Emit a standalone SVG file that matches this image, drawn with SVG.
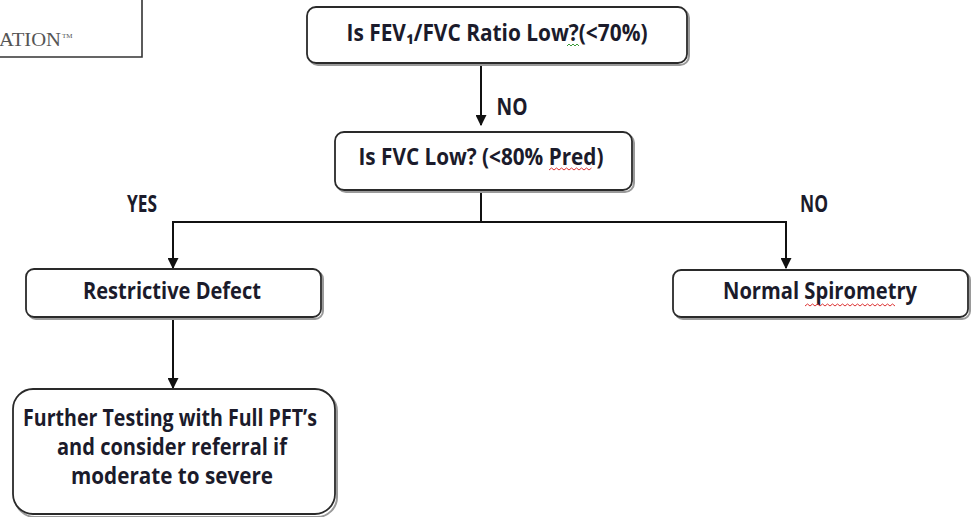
<svg xmlns="http://www.w3.org/2000/svg" width="977" height="517" viewBox="0 0 977 517">
<defs>
<style>
.box{fill:#fff;stroke:#2a2a2a;stroke-width:1.8}
.shadow{fill:none;stroke:#9a9a9a;stroke-width:2}
.t{font-family:"Open Sans","Liberation Sans","DejaVu Sans",sans-serif;font-weight:bold;font-size:23px;fill:#1b1b2b;text-anchor:middle}
.c{fill:none;stroke:#111;stroke-width:2}
.sq{fill:none;stroke-width:1}
</style>
<marker id="ah" viewBox="0 0 10 10" refX="9" refY="5" markerWidth="5.5" markerHeight="5.5" orient="auto">
<path d="M0,0 L10,5 L0,10 z" fill="#111"/>
</marker>
</defs>
<rect width="977" height="517" fill="#fff"/>

<g id="logo">
<path d="M142,0 V57 H0" fill="none" stroke="#333" stroke-width="1.6"/>
<text x="61" y="46" text-anchor="end" font-family="Liberation Serif,serif" font-size="19" fill="#555" textLength="62" lengthAdjust="spacingAndGlyphs">ATION</text>
<text x="62" y="38" font-family="Liberation Serif,serif" font-size="7" fill="#555">TM</text>
</g>

<g id="connectors">
<line class="c" x1="481" y1="64" x2="481" y2="125" marker-end="url(#ah)"/>
<line class="c" x1="481" y1="191" x2="481" y2="222"/>
<path class="c" d="M173,222 H786"/>
<line class="c" x1="173" y1="221" x2="173" y2="268" marker-end="url(#ah)"/>
<line class="c" x1="786" y1="221" x2="786" y2="268" marker-end="url(#ah)"/>
<line class="c" x1="173" y1="318" x2="173" y2="388" marker-end="url(#ah)"/>
<text class="t" x="512" y="115" font-size="18" textLength="31" lengthAdjust="spacingAndGlyphs">NO</text>
<text class="t" x="142" y="212" font-size="17" textLength="30" lengthAdjust="spacingAndGlyphs">YES</text>
<text class="t" x="814" y="212" font-size="17" textLength="28" lengthAdjust="spacingAndGlyphs">NO</text>
</g>

<g id="n1">
<rect class="shadow" x="309" y="9" width="380" height="56" rx="9"/>
<rect class="box" x="307" y="7" width="380" height="56" rx="9"/>
<text class="t" x="497" y="41" textLength="301" lengthAdjust="spacingAndGlyphs">Is FEV₁/FVC Ratio Low?(&lt;70%)</text>
<path class="sq" stroke="#3a9a3a" d="M567,46 l2,-2 l2,2 l2,-2 l2,2 l2,-2 l2,2"/>
</g>

<g id="n2">
<rect class="shadow" x="337" y="134" width="297" height="58" rx="9"/>
<rect class="box" x="335" y="132" width="297" height="58" rx="9"/>
<text class="t" x="481" y="165" textLength="245" lengthAdjust="spacingAndGlyphs">Is FVC Low? (&lt;80% Pred)</text>
<path class="sq" stroke="#d33" d="M549,170 l2.5,-2 l2.5,2 l2.5,-2 l2.5,2 l2.5,-2 l2.5,2 l2.5,-2 l2.5,2 l2.5,-2 l2.5,2 l2.5,-2 l2.5,2 l2.5,-2 l2.5,2 l2.5,-2 l2.5,2 l2.5,-2"/>
</g>

<g id="n3">
<rect class="shadow" x="28" y="271" width="295" height="48" rx="8"/>
<rect class="box" x="26" y="269" width="295" height="48" rx="8"/>
<text class="t" x="172" y="299" textLength="178" lengthAdjust="spacingAndGlyphs">Restrictive Defect</text>
</g>

<g id="n4">
<rect class="shadow" x="675" y="272" width="295" height="47" rx="8"/>
<rect class="box" x="673" y="270" width="295" height="47" rx="8"/>
<text class="t" x="820" y="299" textLength="194" lengthAdjust="spacingAndGlyphs">Normal Spirometry</text>
<path class="sq" stroke="#d33" d="M805,306 l2.5,-2 l2.5,2 l2.5,-2 l2.5,2 l2.5,-2 l2.5,2 l2.5,-2 l2.5,2 l2.5,-2 l2.5,2 l2.5,-2 l2.5,2 l2.5,-2 l2.5,2 l2.5,-2 l2.5,2 l2.5,-2 l2.5,2 l2.5,-2 l2.5,2 l2.5,-2 l2.5,2 l2.5,-2 l2.5,2 l2.5,-2 l2.5,2 l2.5,-2 l2.5,2 l2.5,-2 l2.5,2 l2.5,-2 l2.5,2 l2.5,-2 l2.5,2 l2.5,-2 l2.5,2"/>
</g>

<g id="n5">
<rect class="shadow" x="15" y="391" width="322" height="126" rx="20"/>
<rect class="box" x="13" y="389" width="322" height="125" rx="20"/>
<text class="t" x="170" y="426" font-size="21" textLength="294" lengthAdjust="spacingAndGlyphs">Further Testing with Full PFT’s</text>
<text class="t" x="172" y="455" font-size="21" textLength="230" lengthAdjust="spacingAndGlyphs">and consider referral if</text>
<text class="t" x="172" y="484" font-size="21" textLength="202" lengthAdjust="spacingAndGlyphs">moderate to severe</text>
</g>
</svg>
